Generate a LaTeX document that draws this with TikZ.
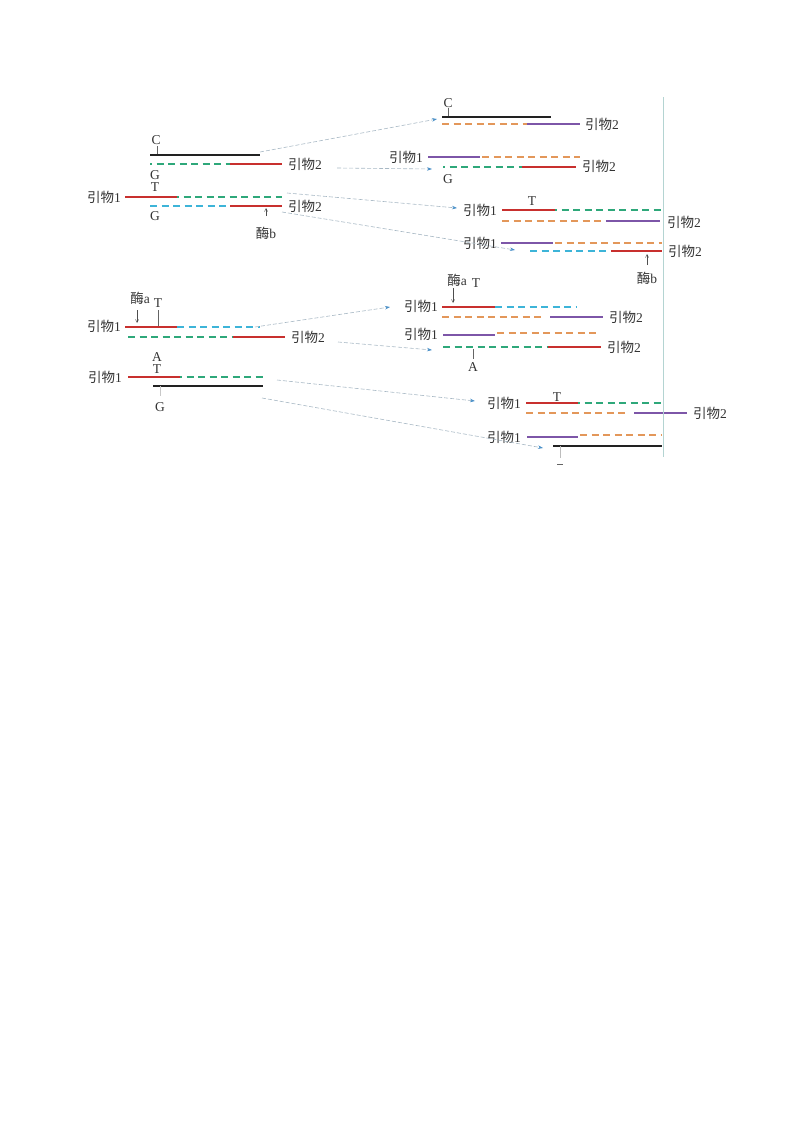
\documentclass[tikz,border=0pt]{standalone}
\usepackage{fontspec}
\setmainfont{Liberation Serif}
\newfontfamily\cjk{Noto Sans CJK SC}
\usetikzlibrary{arrows.meta}
\definecolor{sred}{HTML}{C8302E}
\definecolor{sgreen}{HTML}{2EA87A}
\definecolor{scyan}{HTML}{3DB4D8}
\definecolor{sorange}{HTML}{E3975A}
\definecolor{spurple}{HTML}{7D56A8}
\definecolor{sblack}{HTML}{222222}
\definecolor{txt}{HTML}{333333}
\definecolor{vline}{HTML}{B4D4D2}
\definecolor{flow}{HTML}{A8B8C4}
\definecolor{flowtip}{HTML}{4A90C8}
\newcommand{\yw}{{\cjk 引物}}
\newcommand{\mei}{{\cjk 酶}}
\tikzset{
  lbl/.style={inner sep=0pt, text=txt, font=\fontsize{13.5}{15}\selectfont},
  solidred/.style={draw=sred, line width=1.7pt},
  solidpur/.style={draw=spurple, line width=1.7pt},
  solidblk/.style={draw=sblack, line width=1.7pt},
  dgreen/.style={draw=sgreen, line width=1.7pt, dash pattern=on 7pt off 4.5pt},
  dgreendot/.style={draw=sgreen, line width=1.7pt, dash pattern=on 7pt off 4.5pt, dash phase=5pt},
  dcyan/.style={draw=scyan, line width=1.7pt, dash pattern=on 7pt off 4.5pt},
  dorange/.style={draw=sorange, line width=1.7pt, dash pattern=on 7pt off 4.5pt},
  tick/.style={draw=sblack!70, line width=0.5pt},
  enz/.style={draw=sblack!80, line width=0.5pt, -{Straight Barb[length=3pt,width=3pt]}},
  flowarr/.style={draw=flow, line width=0.6pt, dash pattern=on 4pt off 2pt,
     -{Stealth[length=5pt,width=3.5pt,color=flowtip]}},
}
\begin{document}
\begin{tikzpicture}[x=1pt,y=-1pt]
\useasboundingbox (0,0) rectangle (800,1132);

% ---------- panel 1 (top left) ----------
\node[lbl] (p1C) at (156,140) {C};
\draw[tick] (157,146) -- (157,155);
\draw[solidblk] (150,155) -- (260,155);
\draw[dgreendot] (150,164) -- (230,164);
\draw[solidred] (230,164) -- (282,164);
\node[lbl,anchor=west] (p1r2a) at (288,164) {\yw2};
\node[lbl] (p1G1) at (155,175) {G};
\node[lbl] (p1T) at (155,187) {T};
\node[lbl,anchor=east] (p1r1) at (121,197) {\yw1};
\draw[solidred] (125,197) -- (177,197);
\draw[dgreendot] (177,197) -- (282,197);
\draw[dcyan] (150,206) -- (230,206);
\draw[solidred] (230,206) -- (282,206);
\node[lbl,anchor=west] (p1r2b) at (288,206) {\yw2};
\node[lbl] (p1G2) at (155,216) {G};
\draw[enz] (266,216) -- (266,208);
\node[lbl] (p1mb) at (266,233) {\mei b};

% ---------- panel 2 (top right) ----------
\node[lbl] (p2C) at (448,103) {C};
\draw[tick] (448,108) -- (448,117);
\draw[solidblk] (442,117) -- (551,117);
\draw[dorange] (442,124) -- (527,124);
\draw[solidpur] (527,124) -- (580,124);
\node[lbl,anchor=west] (p2r2a) at (585,124) {\yw2};
\node[lbl,anchor=east] (p2r1) at (423,157) {\yw1};
\draw[solidpur] (428,157) -- (480,157);
\draw[dorange] (482,157) -- (580,157);
\draw[dgreendot] (443,167) -- (522,167);
\draw[solidred] (522,167) -- (576,167);
\node[lbl,anchor=west] (p2r2b) at (582,166) {\yw2};
\node[lbl] (p2G) at (448,179) {G};

% ---------- panel 3 (right) ----------
\node[lbl,anchor=east] (p3r1a) at (497,210) {\yw1};
\node[lbl] (p3T) at (532,201) {T};
\draw[solidred] (502,210) -- (555,210);
\draw[dgreendot] (555,210) -- (661,210);
\draw[dorange] (502,221) -- (606,221);
\draw[solidpur] (606,221) -- (660,221);
\node[lbl,anchor=west] (p3r2a) at (667,222) {\yw2};
\node[lbl,anchor=east] (p3r1b) at (497,243) {\yw1};
\draw[solidpur] (501,243) -- (553,243);
\draw[dorange] (555,243) -- (662,243);
\draw[dcyan] (530,251) -- (611,251);
\draw[solidred] (611,251) -- (662,251);
\node[lbl,anchor=west] (p3r2b) at (668,251) {\yw2};
\draw[enz] (647,265) -- (647,254);
\node[lbl] (p3mb) at (647,278) {\mei b};

% ---------- panel 4 (middle left) ----------
\node[lbl] (p4ma) at (140,298) {\mei a};
\draw[enz] (137,310) -- (137,323);
\node[lbl] (p4T) at (158,303) {T};
\draw[tick] (158,310) -- (158,327);
\node[lbl,anchor=east] (p4r1a) at (121,326) {\yw1};
\draw[solidred] (125,327) -- (177,327);
\draw[dcyan] (177,327) -- (260,327);
\draw[dgreen] (128,337) -- (233,337);
\draw[solidred] (233,337) -- (285,337);
\node[lbl,anchor=west] (p4r2) at (291,337) {\yw2};
\node[lbl] (p4A) at (157,357) {A};
\node[lbl] (p4T2) at (157,369) {T};
\node[lbl,anchor=east] (p4r1b) at (122,377) {\yw1};
\draw[solidred] (128,377) -- (180,377);
\draw[dgreendot] (180,377) -- (263,377);
\draw[solidblk] (153,386) -- (263,386);
\draw[tick,draw=sblack!25] (160,386) -- (160,396);
\node[lbl] (p4G) at (160,407) {G};

% ---------- panel 5 (middle right) ----------
\node[lbl] (p5ma) at (457,280) {\mei a};
\node[lbl] (p5T) at (476,283) {T};
\draw[enz] (453,288) -- (453,303);
\node[lbl,anchor=east] (p5r1a) at (438,306) {\yw1};
\draw[solidred] (442,307) -- (495,307);
\draw[dcyan] (495,307) -- (577,307);
\draw[dorange] (442,317) -- (545,317);
\draw[solidpur] (550,317) -- (603,317);
\node[lbl,anchor=west] (p5r2a) at (609,317) {\yw2};
\node[lbl,anchor=east] (p5r1b) at (438,334) {\yw1};
\draw[solidpur] (443,335) -- (495,335);
\draw[dorange] (497,333) -- (600,333);
\draw[dgreen] (443,347) -- (548,347);
\draw[solidred] (548,347) -- (601,347);
\node[lbl,anchor=west] (p5r2b) at (607,347) {\yw2};
\draw[tick] (473,349) -- (473,359);
\node[lbl] (p5A) at (473,367) {A};

% ---------- panel 6 (bottom right) ----------
\node[lbl,anchor=east] (p6r1a) at (521,403) {\yw1};
\node[lbl] (p6T) at (557,397) {T};
\draw[solidred] (526,403) -- (578,403);
\draw[dgreendot] (578,403) -- (662,403);
\draw[dorange] (526,413) -- (629,413);
\draw[solidpur] (634,413) -- (687,413);
\node[lbl,anchor=west] (p6r2) at (693,413) {\yw2};
\node[lbl,anchor=east] (p6r1b) at (521,437) {\yw1};
\draw[solidpur] (527,437) -- (578,437);
\draw[dorange] (580,435) -- (662,435);
\draw[solidblk] (553,446) -- (662,446);
\draw[tick,draw=sblack!30] (560,446) -- (560,458);
\draw[draw=sblack!70, line width=0.8pt] (557,464) -- (563,464);

% ---------- vertical line ----------
\draw[draw=vline, line width=1pt] (663,97) -- (663,457);

% ---------- flow arrows ----------
\coordinate (a1s) at (260,152); \coordinate (a1e) at (437,119);
\coordinate (a2s) at (337,168); \coordinate (a2e) at (432,169);
\coordinate (a3s) at (287,193); \coordinate (a3e) at (457,208);
\coordinate (a4s) at (282,212); \coordinate (a4e) at (515,250);
\coordinate (a5s) at (255,327); \coordinate (a5e) at (390,307);
\coordinate (a6s) at (338,342); \coordinate (a6e) at (432,350);
\coordinate (a7s) at (277,380); \coordinate (a7e) at (475,401);
\coordinate (a8s) at (262,398); \coordinate (a8e) at (543,448);
\foreach \i in {1,...,8} { \draw[flowarr] (a\i s) -- (a\i e); }
\end{tikzpicture}
\end{document}
